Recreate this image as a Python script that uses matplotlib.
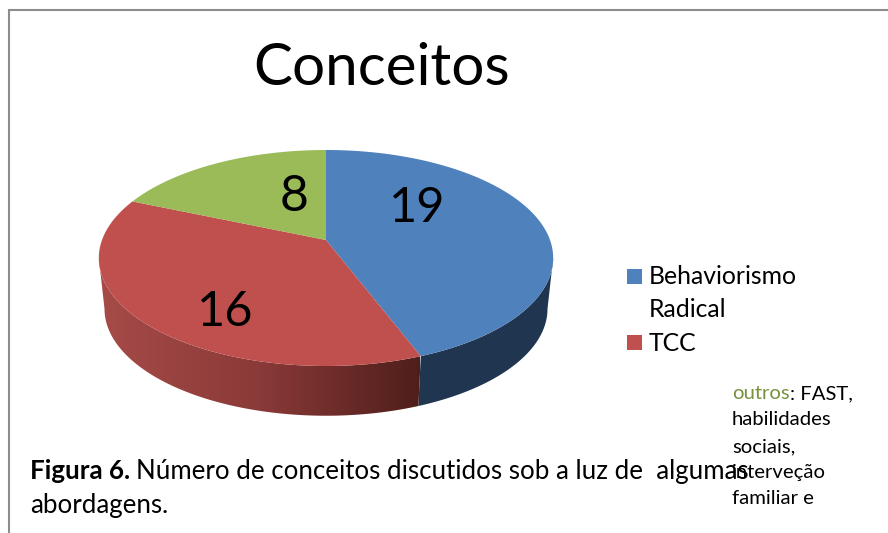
import numpy as np
import matplotlib
matplotlib.use('Agg')
import matplotlib.pyplot as plt
from matplotlib.colors import LinearSegmentedColormap
from matplotlib.patches import Polygon, Rectangle

# chart values
title = 'Conceitos'
categories = ['Behaviorismo\nRadical', 'TCC', 'outros']
values = [19, 16, 8]
top_colors = ['#4f81bd', '#c0504d', '#9bbb59']

plt.rcParams['font.family'] = ['Lato', 'DejaVu Sans']

fig = plt.figure(figsize=(8.88, 5.33), dpi=100)
ax = fig.add_axes([0, 0, 1, 1])
ax.set_axis_off()


# pie geometry, in pixels of the picture (y goes down)
cx, cy = 326, 240
rx, ry = 224, 105
persp = 1 / 6.0
depth = 51
# angle where the rim is widest, the wall is only visible between these two
side = np.degrees(np.arccos(-persp))


def rim(a):
    # point on the top edge of the pie, a = degrees clockwise from 12 o'clock
    a = np.radians(a)
    d = 1 + persp * np.cos(a)
    return rx * np.sin(a) / d, -ry * np.cos(a) / d


def slice_top(a0, a1):
    a = np.linspace(a0, a1, 200)
    x, y = rim(a)
    return np.r_[cx, cx + x], np.r_[cy, cy + y]


def slice_wall(a0, a1):
    a = np.linspace(max(a0, side), min(a1, 360 - side), 200)
    x, y = rim(a)
    return np.r_[cx + x, cx + x[::-1] * 0.975], np.r_[cy + y, cy + y[::-1] * 0.99 + depth]


edges = np.r_[0, np.cumsum(values)] * 360.0 / sum(values)

# walls first, the top faces go over them
wx, wy = slice_wall(edges[0], edges[1])
ax.fill(wx, wy, color='#1f3550', lw=0, zorder=2)

wx, wy = slice_wall(edges[1], edges[2])
red_wall = LinearSegmentedColormap.from_list('red_wall', ['#a64b48', '#8a3a38', '#4f1e1b'])
im = ax.imshow(np.linspace(0, 1, 256).reshape(1, -1), cmap=red_wall, aspect='auto',
               extent=(99, 419, 420, 200), zorder=2)
im.set_clip_path(Polygon(np.c_[wx, wy], transform=ax.transData))

for i in range(len(values)):
    sx, sy = slice_top(edges[i], edges[i + 1])
    ax.fill(sx, sy, color=top_colors[i], lw=0, zorder=3)

ax.set_xlim(0, 888)
ax.set_ylim(533, 0)

# frame of the chart, only top and left are inside the crop
ax.plot([9, 9, 888], [533, 10, 10], color='#8c8c8c', lw=1.5, zorder=1, solid_joinstyle='miter')

# title and data labels
ax.text(382, 85, title, fontsize=42, ha='center', va='baseline', zorder=5)
ax.text(417, 222, str(values[0]), fontsize=35, ha='center', va='baseline', zorder=5)
ax.text(225, 326, str(values[1]), fontsize=35, ha='center', va='baseline', zorder=5)
ax.text(294, 211, str(values[2]), fontsize=36, ha='center', va='baseline', zorder=5)

# legend, the third entry is cut off in the original
ax.add_patch(Rectangle((627, 269), 15, 15, color=top_colors[0], lw=0))
ax.add_patch(Rectangle((627, 335), 15, 15, color=top_colors[1], lw=0))
leg1, leg2 = categories[0].split('\n')
ax.text(649, 284, leg1, fontsize=17.8, va='baseline')
ax.text(649, 317, leg2, fontsize=17.8, va='baseline')
ax.text(649, 351, categories[1], fontsize=17.8, va='baseline')

renderer = fig.canvas.get_renderer()


def after(t):
    # x position right after a text, in data pixels
    return t.get_window_extent(renderer).x1


# caption
t = ax.text(30, 479, 'Figura 6.', fontsize=18.6, fontweight='bold', va='baseline', zorder=6)
ax.text(after(t) + 6, 479, 'Número de conceitos discutidos sob a luz de  algumas', fontsize=18.6,
        va='baseline', zorder=6)
ax.text(30, 513, 'abordagens.', fontsize=18.6, va='baseline', zorder=6)

# note on the right, overlaps the caption in the original
t = ax.text(732, 399, categories[2], fontsize=14.6, color='#76923c', va='baseline', zorder=7)
ax.text(after(t), 399, ': FAST,', fontsize=14.6, va='baseline', zorder=7)
note_lines = ['habilidades', 'sociais,', 'interveção', 'familiar e']
note_y = [425, 452, 478, 504]
for line, y in zip(note_lines, note_y):
    ax.text(732, y, line, fontsize=14.6, va='baseline', zorder=7)

fig.savefig('out.png', dpi=100)
